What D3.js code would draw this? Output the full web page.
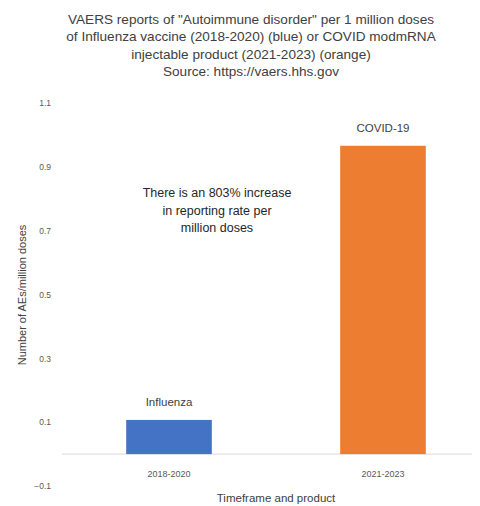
<!DOCTYPE html>
<html>
<head>
<meta charset="utf-8">
<script src="https://cdn.jsdelivr.net/npm/d3@7"></script>
<style>
  html, body { margin: 0; padding: 0; background: #fff; }
  svg { display: block; font-family: "Liberation Sans", Arial, sans-serif; }
</style>
</head>
<body>
<svg id="chart" width="480" height="506"></svg>
<script>
// Reporting rates (AEs per million doses) by timeframe/product
const categories = ["2018-2020", "2021-2023"];
const products = ["Influenza", "COVID-19"];
const rates = [0.107, 0.966];
const barColors = ["#4472C4", "#ED7D31"];
const yTicks = [-0.1, 0.1, 0.3, 0.5, 0.7, 0.9, 1.1];

const titleLines = [
  "VAERS reports of \"Autoimmune disorder\" per 1 million doses",
  "of Influenza vaccine (2018-2020) (blue) or COVID modmRNA",
  "injectable product (2021-2023) (orange)",
  "Source: https://vaers.hhs.gov"
];
const noteLines = ["There is an 803% increase", "in reporting rate per", "million doses"];

const svg = d3.select("#chart");

const x = d3.scaleBand().domain(categories).range([62, 490]).paddingInner(0.6).paddingOuter(0.3);
const y = d3.scaleLinear().domain([-0.1, 1.1]).range([486, 103]);

// Title
svg.append("g").selectAll("text").data(titleLines).join("text")
  .attr("x", 251).attr("y", (d, i) => 24 + i * 17.3)
  .attr("text-anchor", "middle")
  .attr("font-size", 13.6).attr("fill", "#404040")
  .text(d => d);

// Y axis labels (no line)
const yAxis = d3.axisLeft(y).tickValues(yTicks).tickSize(0).tickPadding(0)
  .tickFormat(d => d3.format(".1f")(d));
const yg = svg.append("g").attr("transform", "translate(51,0)").call(yAxis);
yg.select(".domain").remove();
yg.selectAll("text").attr("font-size", 8.5).attr("fill", "#595959");

// Zero baseline
svg.append("line")
  .attr("x1", 62).attr("x2", 472)
  .attr("y1", y(0)).attr("y2", y(0))
  .attr("stroke", "#d9d9d9").attr("stroke-width", 1);

// Bars
svg.append("g").selectAll("rect").data(categories).join("rect")
  .attr("x", d => x(d))
  .attr("width", x.bandwidth())
  .attr("y", (d, i) => y(rates[i]))
  .attr("height", (d, i) => y(0) - y(rates[i]))
  .attr("fill", (d, i) => barColors[i]);

// Product labels above bars
svg.append("g").selectAll("text").data(categories).join("text")
  .attr("x", d => x(d) + x.bandwidth() / 2)
  .attr("y", (d, i) => y(rates[i]) - 14)
  .attr("text-anchor", "middle")
  .attr("font-size", 11.5).attr("fill", "#404040")
  .text((d, i) => products[i]);

// X axis category labels
const xAxis = d3.axisBottom(x).tickSize(0).tickPadding(0);
const xg = svg.append("g").attr("transform", `translate(0,${y(0) + 17})`).call(xAxis);
xg.select(".domain").remove();
xg.selectAll("text").attr("font-size", 9).attr("fill", "#595959");

// Axis titles
svg.append("text")
  .attr("x", 276).attr("y", 502)
  .attr("text-anchor", "middle")
  .attr("font-size", 11.5).attr("fill", "#404040")
  .text("Timeframe and product");

svg.append("text")
  .attr("transform", "translate(26,295) rotate(-90)")
  .attr("text-anchor", "middle")
  .attr("font-size", 11).attr("fill", "#404040")
  .text("Number of AEs/million doses");

// Annotation
svg.append("g").selectAll("text").data(noteLines).join("text")
  .attr("x", 217).attr("y", (d, i) => 197 + i * 17.5)
  .attr("text-anchor", "middle")
  .attr("font-size", 12.5).attr("fill", "#262626")
  .text(d => d);
</script>
</body>
</html>
